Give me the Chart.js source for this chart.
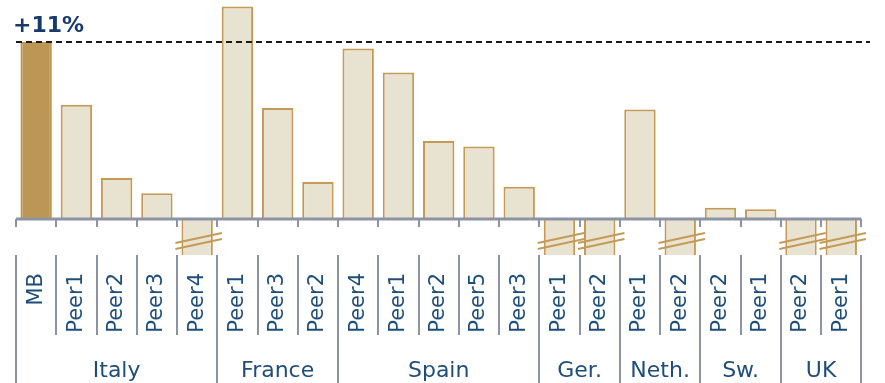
<!DOCTYPE html>
<html>
<head>
<meta charset="utf-8">
<script src="https://cdn.jsdelivr.net/npm/chart.js@4"></script>
<style>
html,body{margin:0;padding:0;background:#fff;}
#wrap{width:885px;height:383px;position:relative;}
</style>
</head>
<body>
<div id="wrap"><canvas id="chart"></canvas></div>
<script>
const categories=['MB','Peer1','Peer2','Peer3','Peer4','Peer1','Peer3','Peer2','Peer4','Peer1','Peer2','Peer5','Peer3','Peer1','Peer2','Peer1','Peer2','Peer2','Peer1','Peer2','Peer1'];
const values=[11,7.1,2.55,1.6,-4,13.2,6.9,2.3,10.6,9.1,4.85,4.5,2.0,-4,-4,6.8,-4,0.7,0.6,-4,-4];
const groups=['Italy','France','Spain','Ger.','Neth.','Sw.','UK'];
const groupSizes=[5,3,5,2,2,2,2];
const refValue=11;
const refLabel='+11%';

const FONT='"DejaVu Sans", sans-serif';
const NAVY='#1F4D7A';
const GREY='#8D93A3';
const TAN='#C49A56';

const extras={
  id:'extras',
  afterDatasetsDraw(chart){
    const ctx=chart.ctx, x=chart.scales.x, y=chart.scales.y, area=chart.chartArea;
    const y0=y.getPixelForValue(0);
    const step=(area.right-area.left)/categories.length;
    ctx.save();
    // hatch marks on clipped negative bars
    const meta=chart.getDatasetMeta(0);
    ctx.strokeStyle=TAN;ctx.lineWidth=1.8;
    values.forEach((v,i)=>{
      if(v>=0) return;
      const b=meta.data[i];
      const l=b.x-b.width/2-6, r=b.x+b.width/2+9;
      [238,244].forEach(cy=>{
        ctx.beginPath();ctx.moveTo(l,cy+5);ctx.lineTo(r,cy-5);ctx.stroke();
      });
    });
    // axis line
    ctx.strokeStyle=GREY;ctx.lineWidth=3;
    ctx.beginPath();ctx.moveTo(area.left,y0);ctx.lineTo(area.right,y0);ctx.stroke();
    // short ticks and separators
    ctx.lineWidth=2;
    const bounds=[0];let acc=0;groupSizes.forEach(s=>{acc+=s;bounds.push(acc);});
    for(let i=0;i<=categories.length;i++){
      const px=Math.round(area.left+i*step);
      ctx.beginPath();ctx.moveTo(px,y0);ctx.lineTo(px,y0+8);ctx.stroke();
      const isGroup=bounds.includes(i);
      ctx.beginPath();ctx.moveTo(px,area.bottom);ctx.lineTo(px,isGroup?chart.height:area.bottom+80);ctx.stroke();
    }
    // group labels
    ctx.fillStyle=NAVY;ctx.font='22px '+FONT;ctx.textAlign='center';ctx.textBaseline='alphabetic';
    groups.forEach((g,k)=>{
      const cx=area.left+(bounds[k]+bounds[k+1])/2*step;
      ctx.fillText(g,cx,377);
    });
    // reference dashed line
    const yr=y.getPixelForValue(refValue);
    ctx.strokeStyle='#1a1a1a';ctx.lineWidth=2;ctx.setLineDash([6,4]);
    ctx.beginPath();ctx.moveTo(area.left,yr);ctx.lineTo(870,yr);ctx.stroke();
    ctx.setLineDash([]);
    ctx.fillStyle='#173B6C';ctx.font='bold 22px '+FONT;ctx.textAlign='left';
    ctx.fillText(refLabel,13,32);
    ctx.restore();
  }
};

new Chart(document.getElementById('chart'),{
  type:'bar',
  data:{
    labels:categories,
    datasets:[{
      data:values,
      backgroundColor:values.map((v,i)=>i===0?'#BC9655':'#E8E2D0'),
      borderColor:values.map((v,i)=>i===0?'#BC9655':TAN),
      borderWidth:2,
      barPercentage:0.78,
      categoryPercentage:1,
      clip:0
    }]
  },
  options:{
    responsive:true,
    maintainAspectRatio:false,
    animation:false,
    layout:{padding:{left:16,right:23,top:0,bottom:48}},
    plugins:{legend:{display:false},tooltip:{enabled:false}},
    scales:{
      y:{display:false,min:-2.24,max:13.61},
      x:{
        grid:{display:false,drawTicks:false},
        border:{display:false},
        ticks:{color:NAVY,font:{family:FONT,size:21},maxRotation:90,minRotation:90,padding:18,autoSkip:false},
        afterFit(s){s.height=80;}
      }
    }
  },
  plugins:[extras]
});
</script>
</body>
</html>
